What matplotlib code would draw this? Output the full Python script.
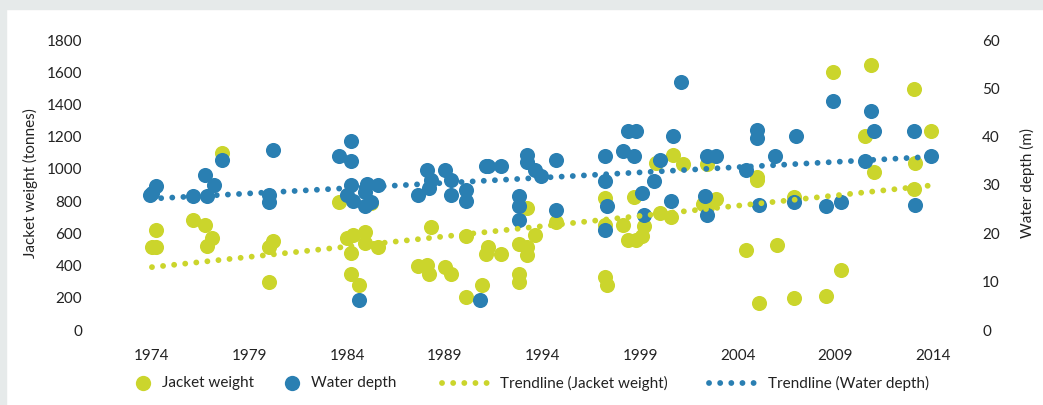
import numpy as np
import matplotlib

matplotlib.use("Agg")
import matplotlib.pyplot as plt
from matplotlib.lines import Line2D
from matplotlib.patches import Rectangle

plt.rcParams["font.family"] = ["Lato", "DejaVu Sans"]

GREEN = "#cbd52c"
BLUE = "#2a7fb2"
FRAME = "#e6eaea"
TEXT = "#222222"
FS = 11

# jacket weight (tonnes) by installation year
jw_year = [1974.2, 1974.0, 1974.2, 1976.1, 1976.7, 1977.1, 1976.8, 1977.6, 1980.0, 1980.0,
           1980.2, 1983.6, 1984.0, 1984.3, 1984.9, 1984.9, 1985.6, 1984.2, 1984.2, 1984.6,
           1985.2, 1988.3, 1987.6, 1988.1, 1988.2, 1989.0, 1989.3, 1990.1, 1990.1, 1993.2,
           1993.6, 1992.8, 1993.2, 1993.2, 1991.9, 1991.2, 1991.1, 1990.9, 1992.8, 1992.8,
           1994.7, 1997.2, 1997.2, 1998.1, 1998.7, 1998.4, 1998.8, 1999.1, 1999.2, 1997.2,
           1997.3, 2000.7, 2001.2, 1999.8, 2002.4, 2005.0, 2005.0, 2000.0, 2000.6, 2002.4,
           2002.9, 2002.2, 2004.4, 2006.0, 2005.1, 2006.9, 2006.9, 2008.9, 2010.8, 2013.0,
           2010.5, 2013.9, 2011.0, 2013.1, 2013.0, 2009.3, 2008.5]
jw_tonnes = [619, 513, 513, 683, 650, 571, 521, 1101, 300, 517,
             554, 792, 573, 590, 610, 542, 517, 480, 345, 277,
             788, 641, 397, 403, 345, 389, 345, 583, 203, 755,
             590, 532, 517, 466, 470, 517, 470, 279, 345, 298,
             672, 821, 652, 652, 828, 559, 559, 583, 646, 331,
             279, 1084, 1028, 1035, 1028, 952, 930, 724, 703, 765,
             811, 780, 497, 526, 166, 201, 828, 1603, 1647, 1494,
             1204, 1237, 979, 1035, 875, 372, 213]

# water depth (m) by installation year
wd_year = [1974.0, 1974.2, 1973.9, 1976.1, 1976.7, 1977.2, 1976.8, 1977.6, 1980.2, 1980.0,
           1980.0, 1984.2, 1983.6, 1984.2, 1984.2, 1984.0, 1984.3, 1985.0, 1984.9, 1984.9,
           1985.2, 1985.6, 1984.6, 1988.1, 1988.3, 1988.2, 1987.6, 1989.0, 1989.3, 1989.3,
           1990.1, 1990.1, 1990.8, 1991.1, 1991.2, 1991.9, 1993.2, 1993.2, 1993.6, 1993.9,
           1994.7, 1992.8, 1992.8, 1992.8, 1994.7, 1997.2, 1997.2, 1997.3, 1997.2, 1998.1,
           1998.7, 1998.4, 1998.8, 1999.1, 1999.2, 2001.1, 2000.7, 2000.0, 1999.7, 2002.4,
           2002.9, 2000.6, 2002.3, 2002.4, 2004.4, 2005.0, 2005.0, 2005.1, 2005.9, 2007.0,
           2006.9, 2008.9, 2010.8, 2011.0, 2013.0, 2013.9, 2010.5, 2008.5, 2009.3, 2013.1]
wd_m = [28.3, 29.8, 27.9, 27.8, 32.0, 29.9, 27.7, 35.2, 37.2, 27.9,
        26.5, 39.2, 36.1, 35.0, 30.1, 28.0, 26.6, 30.2, 28.6, 25.7,
        26.5, 30.1, 6.3, 33.1, 31.0, 29.4, 27.9, 33.1, 31.0, 27.9,
        29.0, 26.6, 6.2, 33.9, 33.9, 33.9, 36.3, 34.8, 33.1, 31.9,
        35.1, 27.8, 25.7, 22.8, 24.8, 36.1, 30.8, 25.7, 20.6, 37.1,
        36.0, 41.2, 41.2, 28.3, 23.7, 51.4, 40.2, 35.2, 30.8, 36.1,
        36.1, 26.6, 27.7, 23.7, 33.1, 41.4, 39.8, 25.8, 36.1, 40.2,
        26.5, 47.4, 45.3, 41.2, 41.2, 36.0, 35.0, 25.7, 26.5, 25.8]

year_ticks = [1974, 1979, 1984, 1989, 1994, 1999, 2004, 2009, 2014]
weight_ticks = [0, 200, 400, 600, 800, 1000, 1200, 1400, 1600, 1800]
depth_ticks = [0, 10, 20, 30, 40, 50, 60]
legend_labels = ["Jacket weight", "Water depth",
                 "Trendline (Jacket weight)", "Trendline (Water depth)"]


def trend(xs, ys):
    k, b = np.polyfit(xs, ys, 1)
    x = np.array([min(xs), max(xs)])
    return x, k * x + b


# round dots: near-zero dash + round caps
DOTS = dict(lw=4.2, dashes=(0.01, 1.9), dash_capstyle="round")

W, H = 1043, 405
fig = plt.figure(figsize=(W / 100, H / 100), dpi=100)
# light grey frame strip along the top and left edge
fig.patches.append(Rectangle((0, 1 - 9 / H), 1, 9 / H, transform=fig.transFigure,
                             color=FRAME, zorder=0))
fig.patches.append(Rectangle((0, 0), 6 / W, 1, transform=fig.transFigure,
                             color=FRAME, zorder=0))

ax = fig.add_axes([100 / W, 75 / H, 860 / W, 290 / H])
ax2 = ax.twinx()

ax.scatter(jw_year, jw_tonnes, s=118, color=GREEN, linewidths=0, zorder=2)
ax2.scatter(wd_year, wd_m, s=118, color=BLUE, linewidths=0, zorder=2)

tx, ty = trend(jw_year, jw_tonnes)
# weight trend drawn on ax2 (scaled 1800 -> 60) so it sits above the blue dots
ax2.plot(tx, ty * 60 / 1800, color=GREEN, zorder=3, **DOTS)
tx, ty = trend(wd_year, wd_m)
ax2.plot(tx, ty, color=BLUE, zorder=3, **DOTS)

ax.set_xlim(1971.34, 2015.38)
ax.set_ylim(0, 1800)
ax2.set_ylim(0, 60)
ax.set_xticks(year_ticks)
ax.set_yticks(weight_ticks)
ax2.set_yticks(depth_ticks)
ax.tick_params(axis="x", length=0, pad=14, labelsize=FS, colors=TEXT)
ax.tick_params(axis="y", length=0, pad=13, labelsize=FS, colors=TEXT)
ax2.tick_params(axis="y", length=0, pad=16, labelsize=FS, colors=TEXT)
for a in (ax, ax2):
    for s in a.spines.values():
        s.set_visible(False)

fig.text(30 / W, 1 - 183 / H, "Jacket weight (tonnes)", rotation=90,
         ha="center", va="center", fontsize=FS, color=TEXT)
fig.text(1027 / W, 1 - 183 / H, "Water depth (m)", rotation=90,
         ha="center", va="center", fontsize=FS, color=TEXT)

# legend row, laid out by hand in pixel positions
ly = 1 - 383 / H
fig.add_artist(Line2D([143 / W], [ly], ls="", marker="o", ms=11, mew=0, color=GREEN))
fig.add_artist(Line2D([292 / W], [ly], ls="", marker="o", ms=11, mew=0, color=BLUE))
fig.add_artist(Line2D([442 / W, 492 / W], [ly, ly], color=GREEN, **DOTS))
fig.add_artist(Line2D([709 / W, 759 / W], [ly, ly], color=BLUE, **DOTS))
for x, lab in zip([162, 311, 500, 768], legend_labels):
    fig.text(x / W, ly, lab, ha="left", va="center", fontsize=FS, color=TEXT)

fig.savefig("out.png", dpi=100, facecolor="white")
